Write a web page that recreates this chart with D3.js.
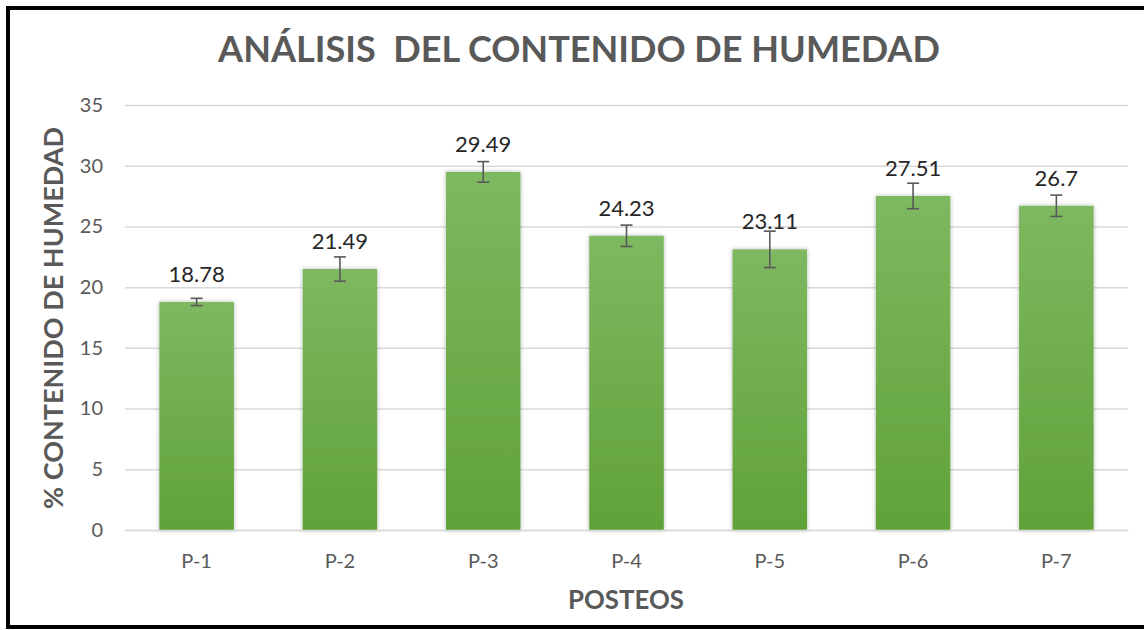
<!DOCTYPE html>
<html><head><meta charset="utf-8">
<script src="https://cdn.jsdelivr.net/npm/d3@7"></script>
<style>html,body{margin:0;padding:0;background:#fff;overflow:hidden}</style>
</head><body>
<svg id="c" width="1144" height="630"></svg>
<script>
const categories = ["P-1","P-2","P-3","P-4","P-5","P-6","P-7"];
const values = [18.78, 21.49, 29.49, 24.23, 23.11, 27.51, 26.7];
const errors = [0.3, 1.0, 0.85, 0.88, 1.5, 1.05, 0.88];
const yTicks = [0,5,10,15,20,25,30,35];
const titleText = "ANÁLISIS  DEL CONTENIDO DE HUMEDAD";
const xTitle = "POSTEOS";
const yTitle = "% CONTENIDO DE HUMEDAD";

const svg = d3.select("#c");
const font = "Lato, 'Open Sans', sans-serif";
const m = {left:125, right:1128, top:105, bottom:530};

const defs = svg.append("defs");
const g = defs.append("linearGradient").attr("id","gr").attr("x1",0).attr("x2",0).attr("y1",0).attr("y2",1);
g.append("stop").attr("offset","0%").attr("stop-color","#7eb860");
g.append("stop").attr("offset","100%").attr("stop-color","#60a239");
const f = defs.append("filter").attr("id","sh").attr("x","-20%").attr("y","-10%").attr("width","140%").attr("height","120%");
f.append("feDropShadow").attr("dx",0).attr("dy",0).attr("stdDeviation",2).attr("flood-color","#000").attr("flood-opacity",0.3);

// border
svg.append("rect").attr("x",8).attr("y",8).attr("width",1150).attr("height",619)
  .attr("fill","none").attr("stroke","#000").attr("stroke-width",4);

const x = d3.scaleBand().domain(categories).range([m.left,m.right]).paddingInner(0.48).paddingOuter(0.24);
const y = d3.scaleLinear().domain([0,35]).range([m.bottom,m.top]);

// grid
const ya = svg.append("g").attr("transform",`translate(${m.left},0)`)
  .call(d3.axisLeft(y).tickValues(yTicks).tickSize(-(m.right-m.left)).tickPadding(22));
ya.select(".domain").remove();
ya.selectAll(".tick line").attr("stroke","#d9d9d9").attr("stroke-width",1.5);
ya.selectAll(".tick text").attr("fill","#595959").attr("font-family",font).attr("font-size",20);

// bars
svg.append("g").selectAll("rect").data(values).join("rect")
  .attr("x",(d,i)=>x(categories[i])).attr("width",x.bandwidth())
  .attr("y",d=>y(d)).attr("height",d=>y(0)-y(d))
  .attr("fill","url(#gr)").attr("filter","url(#sh)");

// x axis
const xa = svg.append("g").attr("transform",`translate(0,${m.bottom})`)
  .call(d3.axisBottom(x).tickSize(0).tickPadding(24));
xa.select(".domain").attr("stroke","#d9d9d9").attr("stroke-width",1.5);
xa.selectAll(".tick text").attr("fill","#595959").attr("font-family",font).attr("font-size",20);

// error bars
const eb = svg.append("g").attr("stroke","#595959").attr("stroke-width",1.6);
values.forEach((v,i)=>{
  const cx = x(categories[i]) + x.bandwidth()/2;
  eb.append("line").attr("x1",cx).attr("x2",cx).attr("y1",y(v+errors[i])).attr("y2",y(v-errors[i]));
  [v+errors[i], v-errors[i]].forEach(e=>{
    eb.append("line").attr("x1",cx-6).attr("x2",cx+6).attr("y1",y(e)).attr("y2",y(e));
  });
});

// data labels
svg.append("g").selectAll("text").data(values).join("text")
  .attr("x",(d,i)=>x(categories[i])+x.bandwidth()/2).attr("y",d=>y(d)-20)
  .attr("text-anchor","middle").attr("font-family",font).attr("font-size",22)
  .attr("fill","#262626").text(d=>String(d));

function fit(sel, target){
  const w = sel.node().getComputedTextLength();
  const fs = parseFloat(sel.attr("font-size"));
  sel.attr("font-size", fs*target/w);
}
const t = svg.append("text").attr("x",579).attr("y",62).attr("text-anchor","middle")
  .attr("font-family",font).attr("font-weight","bold").attr("font-size",36)
  .attr("fill","#595959").style("white-space","pre").text(titleText);
fit(t,722);
const xt = svg.append("text").attr("x",626).attr("y",609).attr("text-anchor","middle")
  .attr("font-family",font).attr("font-weight","bold").attr("font-size",24)
  .attr("fill","#595959").text(xTitle);
fit(xt,116);
const yt = svg.append("text").attr("transform","translate(63,318) rotate(-90)").attr("text-anchor","middle")
  .attr("font-family",font).attr("font-weight","bold").attr("font-size",24)
  .attr("fill","#595959").text(yTitle);
fit(yt,382);
</script>
</body></html>
